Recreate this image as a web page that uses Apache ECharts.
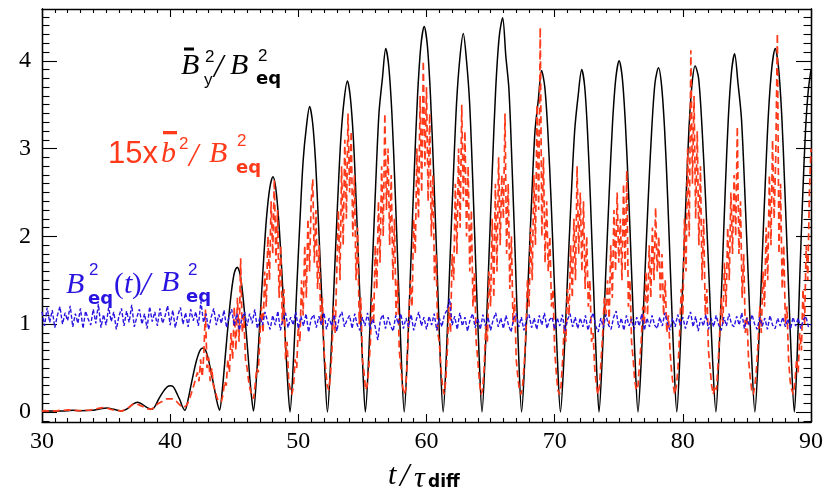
<!DOCTYPE html>
<html>
<head>
<meta charset="utf-8">
<script src="https://cdn.jsdelivr.net/npm/echarts@6/dist/echarts.min.js"></script>
<style>
  html, body { margin: 0; padding: 0; background: #fff; }
  #chart { width: 830px; height: 499px; }
</style>
</head>
<body>
<div id="chart"></div>
<script>
// mean field  Bbar_y^2 / B_eq^2  (points read per half cycle)
const blackT = [
  30, 31, 32, 32.4, 33, 34, 34.5, 35.07, 35.6, 36.2, 36.7, 37.1, 37.46, 37.8, 38.2, 38.6,
  38.84, 39.08, 39.32, 39.55, 39.79, 40.03, 40.22, 40.4, 40.59, 40.78, 40.96, 41.15,
  41.38, 41.62, 41.85, 42.08, 42.32, 42.55, 42.77, 42.98, 43.2, 43.42, 43.63, 43.85,
  44.08, 44.31, 44.54, 44.77, 45.0, 45.23, 45.44, 45.65, 45.87, 46.08, 46.29, 46.5,
  46.75, 47.01, 47.26, 47.51, 47.77, 48.02, 48.24, 48.46, 48.69, 48.91, 49.13, 49.35,
  49.61, 49.86, 50.12, 50.37, 50.63, 50.88, 51.11, 51.34, 51.57, 51.81, 52.04, 52.27,
  52.53, 52.79, 53.05, 53.31, 53.57, 53.83, 54.06, 54.3, 54.53, 54.76, 55.0, 55.23,
  55.5, 55.76, 56.03, 56.29, 56.56, 56.82, 57.06, 57.3, 57.54, 57.78, 58.02, 58.26,
  58.52, 58.78, 59.04, 59.3, 59.56, 59.82, 60.07, 60.31, 60.56, 60.81, 61.05, 61.3,
  61.56, 61.82, 62.09, 62.35, 62.61, 62.87, 63.11, 63.36, 63.6, 63.84, 64.09, 64.33,
  64.6, 64.87, 65.14, 65.4, 65.67, 65.94, 66.19, 66.43, 66.68, 66.93, 67.17, 67.42,
  67.68, 67.94, 68.2, 68.46, 68.72, 68.98, 69.23, 69.47, 69.72, 69.96, 70.21, 70.45,
  70.73, 71.0, 71.28, 71.56, 71.83, 72.11, 72.34, 72.56, 72.79, 73.01, 73.24, 73.46,
  73.72, 73.98, 74.25, 74.51, 74.77, 75.03, 75.28, 75.52, 75.77, 76.01, 76.26, 76.5,
  76.77, 77.03, 77.3, 77.57, 77.83, 78.1, 78.34, 78.58, 78.82, 79.05, 79.29, 79.53,
  79.77, 80.01, 80.25, 80.48, 80.72, 80.96, 81.23, 81.5, 81.77, 82.04, 82.31, 82.58,
  82.82, 83.07, 83.31, 83.55, 83.8, 84.04, 84.3, 84.57, 84.83, 85.09, 85.36, 85.62,
  85.89, 86.15, 86.42, 86.68, 86.95, 87.21, 87.46, 87.71, 87.95, 88.2, 88.45, 88.7,
  88.92, 89.13, 89.35, 89.57, 89.78, 90.0
];
const blackV = [
  0.01, 0.01, 0.015, 0.02, 0.015, 0.02, 0.035, 0.045, 0.03, 0.01, 0.04, 0.09, 0.11, 0.09, 0.05, 0.03,
  0.07, 0.14, 0.20, 0.25, 0.29, 0.30, 0.29, 0.25, 0.19, 0.13, 0.06, 0.02,
  0.13, 0.30, 0.46, 0.60, 0.70, 0.73, 0.70, 0.60, 0.45, 0.29, 0.13, 0.02,
  0.27, 0.65, 1.03, 1.36, 1.58, 1.65, 1.58, 1.36, 1.02, 0.64, 0.26, 0.01,
  0.43, 1.05, 1.66, 2.20, 2.55, 2.68, 2.55, 2.20, 1.66, 1.05, 0.43, 0.0,
  0.56, 1.36, 2.16, 2.85, 3.25, 3.48, 3.30, 2.86, 2.16, 1.36, 0.56, 0.0,
  0.60, 1.47, 2.34, 3.10, 3.55, 3.77, 3.58, 3.10, 2.34, 1.47, 0.60, 0.0,
  0.66, 1.61, 2.57, 3.40, 3.80, 4.14, 3.93, 3.40, 2.57, 1.61, 0.66, 0.0,
  0.70, 1.71, 2.72, 3.60, 4.17, 4.39, 4.17, 3.60, 2.72, 1.71, 0.70, 0.0,
  0.69, 1.68, 2.67, 3.53, 4.04, 4.31, 4.02, 3.53, 2.67, 1.68, 0.69, 0.0,
  0.72, 1.75, 2.78, 3.68, 4.27, 4.49, 4.05, 3.68, 2.78, 1.75, 0.72, 0.0,
  0.62, 1.52, 2.41, 3.19, 3.55, 3.89, 3.70, 3.19, 2.41, 1.52, 0.62, 0.0,
  0.62, 1.52, 2.42, 3.20, 3.60, 3.90, 3.71, 3.20, 2.42, 1.52, 0.62, 0.0,
  0.64, 1.56, 2.48, 3.28, 3.80, 4.00, 3.80, 3.28, 2.48, 1.56, 0.64, 0.0,
  0.63, 1.53, 2.43, 3.21, 3.75, 3.92, 3.72, 3.21, 2.43, 1.53, 0.63, 0.0,
  0.63, 1.54, 2.44, 3.23, 3.74, 3.94, 3.80, 3.23, 2.44, 1.54, 0.63, 0.0,
  0.65, 1.59, 2.53, 3.35, 3.88, 4.08, 3.75, 3.35, 2.53, 1.59, 0.65, 0.0,
  0.66, 1.61, 2.57, 3.40, 3.93, 4.14, 3.93, 3.40, 2.57, 1.61, 0.66, 0.0,
  0.64, 1.56, 2.45, 3.20, 3.65, 3.90
];

// 15 x bbar^2 / B_eq^2, every 0.125 from t = 30
const redT0 = 30, redDt = 0.125;
const redV = [
  0.01, 0.01, 0.015, 0.01, 0.01, 0.015, 0.02, 0.015, 0.01, 0.01, 0.015, 0.02, 0.02, 0.015, 0.02, 0.02, 0.025,
  0.02, 0.02, 0.025, 0.02, 0.015, 0.015, 0.02, 0.015, 0.01, 0.015, 0.02, 0.02, 0.025, 0.02, 0.025, 0.03,
  0.03, 0.035, 0.04, 0.045, 0.05, 0.05, 0.045, 0.05, 0.04, 0.035, 0.03, 0.025, 0.02, 0.02, 0.015, 0.015,
  0.01, 0.01, 0.02, 0.03, 0.04, 0.05, 0.065, 0.08, 0.09, 0.1, 0.09, 0.085, 0.08, 0.07, 0.06, 0.05,
  0.04, 0.035, 0.03, 0.03, 0.035, 0.05, 0.07, 0.09,
  0.1, 0.11, 0.12, 0.13, 0.14, 0.15, 0.16, 0.15,
  0.16, 0.15, 0.14, 0.12, 0.1, 0.08, 0.06, 0.05,
  0.05, 0.07, 0.1, 0.15, 0.2, 0.26, 0.32, 0.3,
  0.45, 0.35, 0.6, 0.4, 0.65, 1.17, 0.5, 0.62,
  0.35, 0.5, 0.3, 0.25, 0.18, 0.12, 0.1, 0.12,
  0.2, 0.35, 0.3, 0.6, 0.45, 0.9, 0.6, 1.2,
  0.7, 1.3, 0.8, 1.75, 0.9, 1.1, 0.6, 0.5,
  0.35, 0.25, 0.2, 0.15, 0.3, 0.5, 0.45, 0.85,
  1.2, 0.9, 1.6, 1.2, 2.0, 1.5, 2.4, 1.8,
  2.65, 1.7, 2.3, 1.3, 1.9, 1.0, 1.4, 0.6,
  0.8, 0.35, 0.25, 0.2, 0.3, 0.6, 0.5, 1.0,
  0.8, 1.5, 1.1, 1.9, 1.3, 2.2, 1.6, 2.4,
  2.65, 1.7, 2.3, 1.4, 1.9, 1.0, 1.3, 0.7,
  0.5, 0.3, 0.25, 0.4, 0.7, 1.2, 0.9, 1.6,
  2.3, 1.5, 2.8, 1.9, 3.1, 2.2, 3.4, 2.5,
  3.2, 2.0, 2.7, 1.5, 2.1, 1.0, 1.3, 0.6,
  0.45, 0.25, 0.3, 0.5, 0.8, 1.3, 1.0, 1.9,
  1.4, 2.4, 1.7, 2.8, 2.0, 3.4, 2.3, 3.0,
  1.9, 2.7, 1.5, 2.2, 1.1, 1.5, 0.7, 0.5,
  0.3, 0.2, 0.25, 0.6, 1.1, 1.5, 1.2, 2.2,
  1.8, 3.0, 2.2, 3.6, 2.5, 4.0, 2.8, 3.7,
  2.4, 3.4, 2.0, 2.7, 1.5, 1.8, 0.9, 0.8,
  0.5, 0.3, 0.2, 0.35, 0.7, 1.2, 0.9, 1.8,
  1.5, 2.6, 1.8, 3.0, 2.1, 3.5, 2.4, 3.2,
  2.0, 2.8, 1.6, 2.3, 1.2, 1.6, 0.8, 0.6,
  0.35, 0.2, 0.25, 0.5, 1.0, 0.8, 1.6, 1.2,
  2.2, 1.3, 2.6, 1.6, 2.9, 1.9, 2.7, 2.2,
  3.4, 1.8, 2.6, 1.4, 2.0, 1.0, 1.3, 0.6,
  0.4, 0.25, 0.2, 0.3, 0.55, 0.9, 1.5, 1.2,
  2.1, 1.5, 2.7, 1.9, 3.5, 2.3, 4.38, 2.0,
  2.9, 1.7, 2.4, 1.6, 2.0, 1.2, 1.4, 0.7,
  0.45, 0.25, 0.2, 0.3, 0.6, 1.0, 0.8, 1.4,
  1.1, 1.9, 1.3, 2.2, 1.5, 2.8, 1.8, 2.5,
  1.6, 2.4, 1.4, 2.0, 1.2, 1.5, 0.8, 0.9,
  0.5, 0.3, 0.2, 0.3, 0.6, 0.9, 1.3, 1.1,
  1.5, 1.0, 1.9, 1.3, 2.3, 1.6, 2.5, 1.7,
  2.2, 1.5, 2.6, 1.6, 2.75, 1.2, 1.5, 0.8,
  0.6, 0.35, 0.25, 0.3, 0.55, 0.8, 1.2, 1.0,
  1.6, 1.1, 1.9, 1.3, 2.1, 1.5, 2.33, 1.6,
  2.0, 1.3, 1.8, 1.1, 1.5, 0.9, 1.1, 0.7,
  0.45, 0.3, 0.2, 0.3, 0.5, 0.9, 1.4, 1.1,
  2.2, 1.6, 3.0, 2.0, 4.12, 2.6, 3.6, 2.2,
  3.2, 1.9, 2.8, 1.5, 2.2, 1.1, 1.4, 0.7,
  0.5, 0.3, 0.2, 0.3, 0.25, 0.55, 0.9, 1.3,
  1.0, 1.7, 1.2, 2.1, 1.5, 2.5, 1.8, 2.7,
  2.0, 3.25, 1.8, 2.4, 1.3, 1.8, 0.9, 1.1,
  0.6, 0.4, 0.25, 0.2, 0.3, 0.5, 0.8, 1.2,
  0.9, 1.6, 1.2, 2.1, 1.5, 2.7, 1.9, 3.1,
  2.2, 2.9, 4.31, 1.8, 2.6, 1.4, 1.9, 1.0,
  1.2, 0.6, 0.35, 0.25, 0.2, 0.35, 0.6, 0.45,
  0.9, 0.7, 1.4, 1.0, 1.9, 1.5, 2.5, 3.0
];

// B_eq^2(t) / B_eq^2, every 0.2 from t = 30
const blueT0 = 30, blueDt = 0.2;
const blueV = [
  1.14, 0.98, 1.19, 1.02, 1.16, 0.96, 1.10, 1.20, 1.00, 1.13,
  1.04, 1.21, 0.97, 1.12, 1.01, 1.18, 0.95, 1.15, 1.06, 0.99,
  1.17, 1.01, 1.23, 0.96, 1.11, 0.99, 1.19, 1.03, 1.14, 0.94,
  1.09, 1.18, 0.98, 1.15, 1.02, 1.22, 0.97, 1.08, 1.17, 1.00,
  1.12, 0.95, 1.20, 1.03, 1.14, 0.98, 1.18, 1.01, 1.09, 1.21,
  0.99, 1.16, 0.96, 1.10, 1.19, 1.00, 1.13, 0.97, 1.17, 1.04,
  1.14, 0.98, 1.26, 1.02, 1.12, 0.94, 1.08, 1.18, 0.99, 1.11,
  1.01, 1.16, 0.96, 1.09, 1.17, 0.98, 1.12, 0.93, 1.07, 1.14,
  0.98, 1.12, 1.01, 1.17, 0.95, 1.08, 0.99, 1.14, 1.03, 0.94,
  1.10, 0.99, 1.15, 0.93, 1.06, 1.13, 0.96, 1.08, 0.99, 1.14,
  0.95, 1.09, 0.98, 1.12, 0.91, 1.06, 1.11, 0.96, 1.09, 0.99,
  1.13, 0.94, 1.07, 0.98, 1.11, 0.92, 1.08, 1.14, 0.97, 1.05,
  1.10, 0.95, 1.12, 0.99, 0.93, 1.08, 0.98, 1.13, 0.94, 1.06,
  0.97, 0.82, 1.05, 1.11, 0.95, 1.08, 0.98, 0.92, 1.10, 1.00,
  1.12, 0.95, 1.07, 0.97, 1.11, 0.93, 1.05, 1.14, 0.98, 1.08,
  0.94, 1.09, 0.99, 1.12, 0.93, 1.07, 0.97, 1.11, 1.16, 1.29,
  0.99, 1.09, 0.94, 1.13, 0.98, 1.08, 0.92, 1.05, 1.12, 0.96,
  1.07, 0.94, 1.11, 0.98, 1.08, 0.93, 1.05, 1.13, 0.97, 1.07,
  0.95, 1.10, 0.99, 0.91, 1.07, 1.12, 0.97, 1.08, 0.93, 1.05,
  1.11, 0.96, 1.07, 0.94, 1.10, 0.99, 1.13, 0.95, 1.05, 1.08,
  0.94, 1.07, 0.98, 1.11, 0.92, 1.05, 1.12, 0.97, 1.08, 0.95,
  1.07, 0.97, 1.10, 0.93, 1.05, 1.13, 0.98, 0.91, 1.07, 0.96,
  1.11, 0.99, 0.94, 1.08, 1.15, 0.96, 1.07, 0.93, 1.10, 0.98,
  1.06, 0.94, 1.08, 0.98, 1.12, 0.93, 1.07, 0.97, 1.10, 0.99,
  0.95, 1.08, 0.98, 1.13, 1.01, 0.93, 1.07, 0.97, 1.11, 0.99,
  1.08, 0.95, 1.06, 1.14, 0.97, 1.09, 0.92, 1.07, 0.98, 1.11,
  0.94, 1.07, 0.97, 1.10, 0.99, 0.93, 1.08, 0.98, 1.12, 1.00,
  0.97, 1.09, 0.99, 1.13, 0.95, 1.07, 0.98, 1.11, 1.00, 0.94,
  1.08, 0.98, 1.07, 0.94, 1.10, 0.99, 0.95, 1.07, 0.98, 1.08,
  0.97, 1.06, 0.94, 1.08, 0.98, 1.07, 0.95, 1.05, 1.09, 0.97,
  1.00
];

const yTicks = [0, 1, 2, 3, 4];
const yMinor = [];
for (let k = -1; k <= 45; k++) if (k % 10 !== 0) yMinor.push(k / 10);

const SERIF = "'Liberation Serif', 'DejaVu Serif', serif";
const SANS = "'Liberation Sans', 'DejaVu Sans', sans-serif";
const WIDE = "'DejaVu Sans', sans-serif";
const RED = '#ff3a1a';
const BLUE = '#2a14e0';

function txt(x, y, s, font, color) {
  return {
    type: 'text', x, y, z: 10,
    style: { text: s, font, fill: color, textAlign: 'left', verticalAlign: 'middle' }
  };
}
function bar(x, y, w, h, color) {
  return { type: 'rect', z: 10, shape: { x, y, width: w, height: h }, style: { fill: color } };
}

const big = 'italic 30px ' + SERIF;
const par = '29px ' + SERIF;
const slash = 'italic 33px ' + SERIF;
const sup = '17px ' + SANS;
const sub = 'bold 18px ' + WIDE;

const labels = [
  // Bbar_y^2 / B_eq^2
  txt(181, 66, 'B', big, '#000'),
  bar(184, 47.5, 10, 3, '#000'),
  txt(205, 57, '2', sup, '#000'),
  txt(204, 80, 'y', sup, '#000'),
  txt(214, 68, '/', slash, '#000'),
  txt(230, 66, 'B', big, '#000'),
  txt(258, 56, '2', sup, '#000'),
  txt(256, 79, 'eq', sub, '#000'),
  // 15 x bbar^2 / B_eq^2
  txt(108, 154, '15x', '31px ' + SANS, RED),
  txt(161, 154, 'b', big, RED),
  bar(163, 131, 14, 3.3, RED),
  txt(179, 144, '2', sup, RED),
  txt(189, 157, '/', slash, RED),
  txt(209, 154, 'B', big, RED),
  txt(237, 141, '2', sup, RED),
  txt(236, 168, 'eq', sub, RED),
  // B_eq^2(t) / B_eq^2
  txt(66, 285, 'B', big, BLUE),
  txt(89, 270, '2', sup, BLUE),
  txt(88, 299, 'eq', sub, BLUE),
  txt(114, 285, '(', par, BLUE),
  txt(124, 285, 't', big, BLUE),
  txt(132, 285, ')', par, BLUE),
  txt(141, 286, '/', slash, BLUE),
  txt(161, 283, 'B', big, BLUE),
  txt(188, 270, '2', sup, BLUE),
  txt(186, 297, 'eq', sub, BLUE),
  // x title  t / tau_diff
  txt(388, 476, 't', big, '#000'),
  txt(400, 477, '/', slash, '#000'),
  txt(414, 479, 'τ', big, '#000'),
  txt(428, 483, 'diff', 'bold 17px ' + WIDE, '#000')
];

const axisLine = { show: true, onZero: false, lineStyle: { color: '#000', width: 1.3 } };
const tickStyle = { color: '#000', width: 1.1 };

function xAx(pos, showLabel) {
  return {
    type: 'value', position: pos, min: 30, max: 90, interval: 10,
    axisLine,
    axisTick: { inside: true, length: 8, lineStyle: tickStyle },
    minorTick: { show: true, splitNumber: 10, length: 4, lineStyle: tickStyle },
    axisLabel: { show: showLabel, margin: 8, color: '#000', fontFamily: SERIF, fontSize: 24 },
    splitLine: { show: false }, minorSplitLine: { show: false }
  };
}
function yAx(pos, values, len, showLabel) {
  return {
    type: 'value', position: pos, min: -0.114, max: 4.59,
    axisLine,
    axisTick: { inside: true, length: len, customValues: values, lineStyle: tickStyle },
    axisLabel: { show: showLabel, customValues: yTicks, margin: 11, color: '#000', fontFamily: SERIF, fontSize: 24 },
    splitLine: { show: false }
  };
}

const chart = echarts.init(document.getElementById('chart'));
chart.setOption({
  animation: false,
  backgroundColor: '#fff',
  grid: { left: 42, right: 19, top: 9, bottom: 77 },
  xAxis: [xAx('bottom', true), xAx('top', false)],
  yAxis: [
    yAx('left', yTicks, 15, true),
    yAx('left', yMinor, 7.5, false),
    yAx('right', yTicks, 15, false),
    yAx('right', yMinor, 7.5, false)
  ],
  series: [
    {
      name: 'black', type: 'line', z: 2, showSymbol: false, smooth: 0.3,
      data: blackT.map((t, i) => [t, blackV[i]]),
      lineStyle: { color: '#000', width: 1.5 }
    },
    {
      name: 'red', type: 'line', z: 3, showSymbol: false,
      data: redV.map((v, i) => [redT0 + i * redDt, v]),
      lineStyle: { color: RED, width: 1.7, type: [7, 4] }
    },
    {
      name: 'blue', type: 'line', z: 4, showSymbol: false,
      data: blueV.map((v, i) => [blueT0 + i * blueDt, v]),
      lineStyle: { color: BLUE, width: 1.4, type: [4, 2] }
    }
  ],
  graphic: labels
});
</script>
</body>
</html>
